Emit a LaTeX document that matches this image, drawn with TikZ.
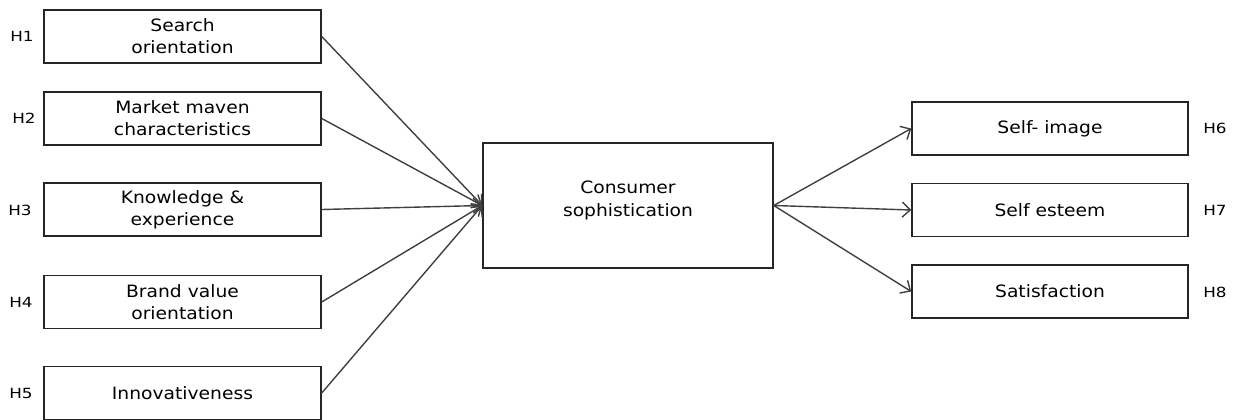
\documentclass[tikz,border=0pt]{standalone}
\usepackage{fontspec}
\setmainfont{DejaVu Sans}[FakeStretch=1.1]
\newfontfamily\lblfont{DejaVu Sans}[FakeStretch=1.2]
\usetikzlibrary{arrows.meta}
\begin{document}
\begin{tikzpicture}[x=1pt,y=-1pt,
  box/.style={draw=black!85,line width=1.5pt,inner sep=0pt,align=center,
    font=\fontsize{17}{22}\selectfont},
  lbox/.style={box,minimum width=277pt,minimum height=53pt},
  rbox/.style={box,minimum width=276pt,minimum height=53pt},
  hlab/.style={font=\lblfont\fontsize{14}{15}\selectfont,inner sep=0pt},
  conn/.style={draw=black!75,line width=1.4pt,-{Straight Barb[length=8pt,width=15pt,line width=1.4pt]}}]
\useasboundingbox (0,0) rectangle (1235,420);
\node[lbox] (b1) at (182.5,36.5) {Search\\orientation};
\node[lbox] (b2) at (182.5,118.5) {Market maven\\characteristics};
\node[lbox] (b3) at (182.5,209.5) {Knowledge \&\\experience};
\node[lbox] (b4) at (182.5,302) {Brand value\\orientation};
\node[lbox] (b5) at (182.5,393) {Innovativeness};
\node[box,minimum width=290pt,minimum height=125pt] (c) at (628,205.5) {};
\node[font=\fontsize{17}{23}\selectfont,align=center,inner sep=0pt] (ct) at (628,200) {Consumer\\sophistication};
\node[rbox] (r1) at (1050,128.5) {Self- image};
\node[rbox] (r2) at (1050,210) {Self esteem};
\node[rbox] (r3) at (1050,291.5) {Satisfaction};
\node[hlab] (h1) at (22,36) {H1};
\node[hlab] (h2) at (24,118) {H2};
\node[hlab] (h3) at (20,210) {H3};
\node[hlab] (h4) at (21,302) {H4};
\node[hlab] (h5) at (21,393) {H5};
\node[hlab] (h6) at (1215,128) {H6};
\node[hlab] (h7) at (1215,210) {H7};
\node[hlab] (h8) at (1215,292) {H8};
\foreach \b in {b1,b2,b3,b4,b5} \draw[conn] (\b.east) -- (c.west);
\foreach \r in {r1,r2,r3} \draw[conn] (c.east) -- (\r.west);
\end{tikzpicture}
\end{document}
